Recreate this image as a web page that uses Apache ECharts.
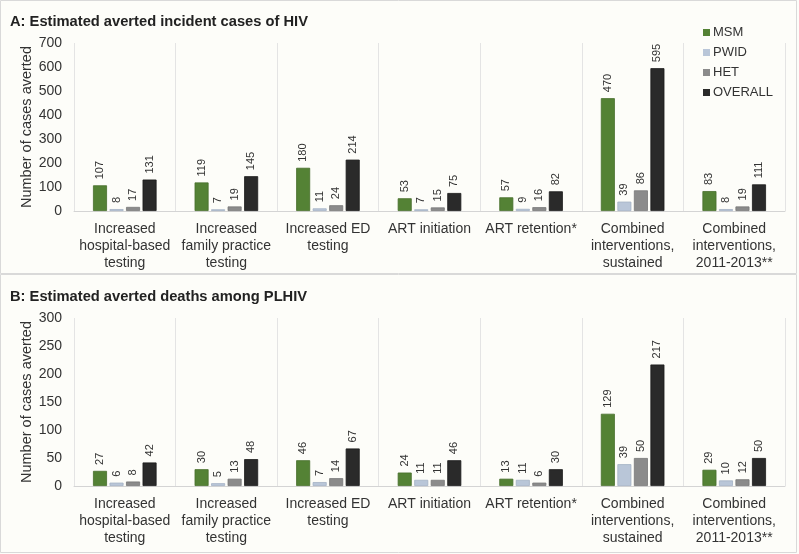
<!DOCTYPE html>
<html><head><meta charset="utf-8">
<script src="https://cdn.jsdelivr.net/npm/echarts@6/dist/echarts.min.js"></script>
<style>html,body{margin:0;padding:0;background:#fdfdf9;}#c{width:799px;height:554px;}</style>
</head><body><div id="c"></div>
<script>
const categories = ["Increased\nhospital-based\ntesting","Increased\nfamily practice\ntesting","Increased ED\ntesting","ART initiation","ART retention*","Combined\ninterventions,\nsustained","Combined\ninterventions,\n2011-2013**"];
const seriesNames = ["MSM","PWID","HET","OVERALL"];
const colors = ["#548235","#b9c6d8","#8b8b8b","#2a2a2a"];
const borders = ["#476f2c","#a3b1c4","#777777","#1a1a1a"];
const casesMSM = [107,119,180,53,57,470,83];
const casesPWID = [8,7,11,7,9,39,8];
const casesHET = [17,19,24,15,16,86,19];
const casesOVERALL = [131,145,214,75,82,595,111];
const deathsMSM = [27,30,46,24,13,129,29];
const deathsPWID = [6,5,7,11,11,39,10];
const deathsHET = [8,13,14,11,6,50,12];
const deathsOVERALL = [42,48,67,46,30,217,50];
const titleA = "A: Estimated averted incident cases of HIV";
const titleB = "B: Estimated averted deaths among PLHIV";
const yName = "Number of cases averted";

const font = "Liberation Sans, Arial, sans-serif";
const panelA = [casesMSM,casesPWID,casesHET,casesOVERALL];
const panelB = [deathsMSM,deathsPWID,deathsHET,deathsOVERALL];

function xAxis(idx){
  return {type:'category', gridIndex:idx, data:categories,
    axisLine:{lineStyle:{color:'#d4d4d4',width:1}}, axisTick:{show:false},
    splitLine:{show:true, lineStyle:{color:'#e4e4e4',width:1}},
    axisLabel:{interval:0, color:'#333', fontSize:14, fontFamily:font, lineHeight:17, margin:10}};
}
function yAxis(idx,max,interval){
  return {type:'value', gridIndex:idx, min:0, max:max, interval:interval,
    name:yName, nameLocation:'middle', nameRotate:90, nameGap:40, nameMoveOverlap:false,
    nameTextStyle:{color:'#333', fontSize:14.5, fontFamily:font},
    axisLine:{show:false}, axisTick:{show:false}, splitLine:{show:false},
    axisLabel:{color:'#333', fontSize:14, fontFamily:font, margin:12}};
}
const series = [];
[panelA,panelB].forEach((panel,p)=>{
  panel.forEach((vals,i)=>{
    series.push({type:'bar', name:seriesNames[i], xAxisIndex:p, yAxisIndex:p, data:vals,
      barWidth:14, barGap:'18%',
      itemStyle:{color:colors[i], borderColor:borders[i], borderWidth:0.8},
      label:{show:true, position:'top', rotate:90, distance:6, align:'left', verticalAlign:'middle',
        color:'#333', fontSize:11, fontFamily:font}});
  });
});
const chart = echarts.init(document.getElementById('c'), null, {renderer:'canvas'});
chart.setOption({
  backgroundColor:'#fdfdf9',
  animation:false,
  title:[
    {text:titleA, left:5, top:9, textStyle:{fontSize:14.7, fontWeight:'bold', color:'#222', fontFamily:font}},
    {text:titleB, left:5, top:284, textStyle:{fontSize:14.7, fontWeight:'bold', color:'#222', fontFamily:font}}
  ],
  legend:{orient:'vertical', left:698, top:21, itemWidth:7, itemHeight:7, itemGap:7,
    data:seriesNames, icon:'rect', itemStyle:{borderWidth:0},
    textStyle:{fontSize:13, color:'#333', fontFamily:font, padding:[0,0,0,-2]}},
  grid:[
    {left:74, right:14, top:43, height:168},
    {left:74, right:14, top:318, height:168}
  ],
  xAxis:[xAxis(0),xAxis(1)],
  yAxis:[yAxis(0,700,100),yAxis(1,300,50)],
  graphic:[
    {type:'rect', shape:{x:0.5,y:0.5,width:796,height:273}, style:{fill:'none', stroke:'#d9d9d9', lineWidth:1}, silent:true},
    {type:'rect', shape:{x:0.5,y:274.5,width:796,height:278}, style:{fill:'none', stroke:'#d9d9d9', lineWidth:1}, silent:true}
  ],
  series:series
});
</script></body></html>
